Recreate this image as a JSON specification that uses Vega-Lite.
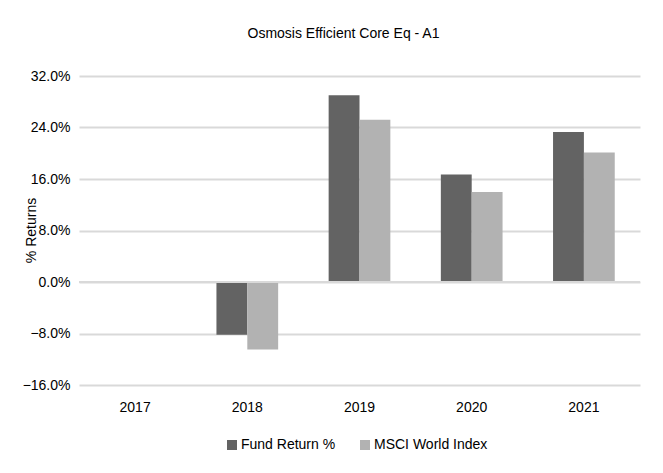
{
  "$schema": "https://vega.github.io/schema/vega-lite/v6.json",
  "width": 561,
  "height": 309,
  "autosize": {"type": "none"},
  "padding": {"left": 79, "top": 76, "right": 23, "bottom": 88},
  "background": "white",
  "title": {
    "text": "Osmosis Efficient Core Eq - A1",
    "font": "Liberation Sans",
    "fontSize": 14,
    "fontWeight": "normal",
    "color": "#000000",
    "offset": 28,
    "dx": -16
  },
  "data": {
    "values": [
      {"year": "2018", "series": "Fund Return %", "value": -8.2},
      {"year": "2018", "series": "MSCI World Index", "value": -10.5},
      {"year": "2019", "series": "Fund Return %", "value": 29.0},
      {"year": "2019", "series": "MSCI World Index", "value": 25.2},
      {"year": "2020", "series": "Fund Return %", "value": 16.7},
      {"year": "2020", "series": "MSCI World Index", "value": 14.0},
      {"year": "2021", "series": "Fund Return %", "value": 23.3},
      {"year": "2021", "series": "MSCI World Index", "value": 20.1}
    ]
  },
  "layer": [
    {
      "mark": {"type": "bar"},
      "encoding": {
        "x": {
          "field": "year",
          "type": "nominal",
          "scale": {"domain": ["2017", "2018", "2019", "2020", "2021"], "paddingInner": 0.45, "paddingOuter": 0.225},
          "axis": {
            "title": null,
            "labelAngle": 0,
            "domain": false,
            "ticks": false,
            "labelPadding": 15,
            "labelFont": "Liberation Sans",
            "labelFontSize": 14,
            "labelColor": "#000000"
          }
        },
        "xOffset": {"field": "series", "type": "nominal"},
        "y": {
          "field": "value",
          "type": "quantitative",
          "scale": {"domain": [-16, 32], "nice": false, "zero": false},
          "axis": {
            "title": "% Returns",
            "titleFont": "Liberation Sans",
            "titleFontSize": 14,
            "titleFontWeight": "normal",
            "titleColor": "#000000",
            "titleX": -41,
            "titleY": 154,
            "values": [-16, -8, 0, 8, 16, 24, 32],
            "labelExpr": "format(datum.value, '.1f') + '%'",
            "labelFont": "Liberation Sans",
            "labelFontSize": 14,
            "labelColor": "#000000",
            "labelPadding": 9,
            "ticks": false,
            "domain": false,
            "grid": true,
            "gridColor": "#d9d9d9",
            "gridWidth": 2
          }
        },
        "color": {
          "field": "series",
          "type": "nominal",
          "scale": {"domain": ["Fund Return %", "MSCI World Index"], "range": ["#636363", "#b2b2b2"]},
          "legend": {
            "title": null,
            "orient": "none",
            "direction": "horizontal",
            "legendX": 146,
            "legendY": 362,
            "symbolType": "square",
            "symbolSize": 100,
            "symbolStrokeWidth": 0,
            "labelFont": "Liberation Sans",
            "labelFontSize": 14,
            "labelColor": "#000000",
            "labelOffset": 2,
            "columnPadding": 22
          }
        }
      }
    },
    {
      "data": {"values": [{"y": 0}]},
      "mark": {"type": "rule", "color": "#d9d9d9", "strokeWidth": 2},
      "encoding": {"y": {"field": "y", "type": "quantitative"}}
    }
  ],
  "config": {
    "view": {"stroke": null}
  }
}
